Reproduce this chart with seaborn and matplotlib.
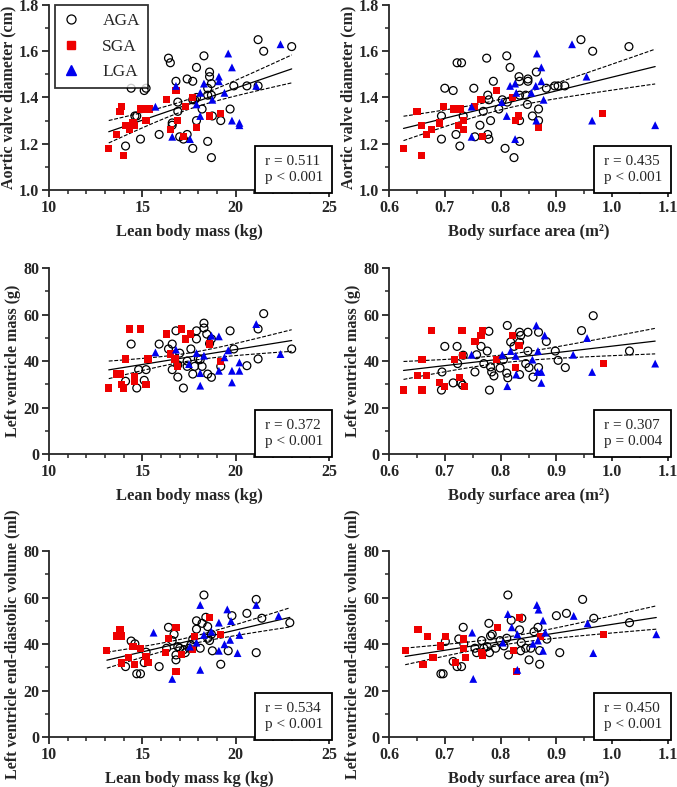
import numpy as np
import pandas as pd
import matplotlib
matplotlib.use("Agg")
import matplotlib.pyplot as plt
import seaborn as sns
from matplotlib.lines import Line2D
from matplotlib.offsetbox import AnchoredText
from matplotlib.ticker import MultipleLocator

# ===========================
# DATA
# ===========================

# Panel 1: lean body mass (kg) vs aortic valve diameter (cm)
lbm_avd_aga_x = [14.4, 15.1, 15.2, 14.6, 14.7, 14.9, 14.1, 15.9, 16.4, 16.5, 16.8, 16.9, 16.9, 16.6, 16.6,
                 17.0, 17.2, 17.4, 17.4, 17.7, 17.9, 18.3, 17.7, 17.8, 17.9, 17.9, 17.7, 18.2, 18.6, 18.6,
                 18.7, 18.5, 18.7, 18.5, 18.75, 18.5, 18.7, 19.2, 19.7, 19.9, 20.6, 21.2, 21.5, 21.2, 23.0]
lbm_avd_aga_y = [1.44, 1.43, 1.44, 1.32, 1.32, 1.22, 1.19, 1.24, 1.57, 1.55, 1.47, 1.38, 1.34, 1.29, 1.28,
                 1.23, 1.22, 1.24, 1.48, 1.47, 1.53, 1.58, 1.39, 1.39, 1.40, 1.30, 1.18, 1.35, 1.49, 1.51,
                 1.46, 1.44, 1.41, 1.41, 1.32, 1.21, 1.14, 1.30, 1.35, 1.45, 1.45, 1.65, 1.60, 1.45, 1.62]
lbm_avd_sga_x = [13.2, 13.6, 13.8, 13.9, 14.0, 14.1, 14.3, 14.5, 14.6, 14.9, 15.2, 15.4, 15.2, 16.3, 16.5,
                 16.8, 16.9, 17.2, 17.3, 17.7, 17.9, 18.6, 19.2]
lbm_avd_sga_y = [1.18, 1.24, 1.34, 1.36, 1.15, 1.28, 1.26, 1.29, 1.28, 1.35, 1.35, 1.35, 1.30, 1.39, 1.26,
                 1.43, 1.30, 1.23, 1.36, 1.40, 1.27, 1.32, 1.33]
lbm_avd_lga_x = [15.7, 16.6, 16.8, 17.55, 17.9, 18.1, 18.1, 18.3, 18.75, 19.1, 19.1, 19.4, 19.6, 19.8, 19.8,
                 20.2, 20.2, 21.1, 22.4]
lbm_avd_lga_y = [1.36, 1.23, 1.45, 1.22, 1.37, 1.32, 1.42, 1.46, 1.39, 1.49, 1.47, 1.42, 1.59, 1.53, 1.30,
                 1.29, 1.28, 1.45, 1.63]

# Panel 2: body surface area (m2) vs aortic valve diameter (cm)
bsa_avd_aga_x = [0.694, 0.694, 0.700, 0.715, 0.722, 0.730, 0.720, 0.727, 0.733, 0.752, 0.754, 0.763, 0.769,
                 0.775, 0.777, 0.779, 0.777, 0.779, 0.782, 0.787, 0.797, 0.803, 0.812, 0.811, 0.817, 0.808,
                 0.824, 0.833, 0.834, 0.834, 0.834, 0.834, 0.845, 0.849, 0.849, 0.848, 0.857, 0.864, 0.868,
                 0.868, 0.882, 0.897, 0.903, 0.915, 0.944, 0.965, 1.030]
bsa_avd_aga_y = [1.32, 1.22, 1.44, 1.43, 1.55, 1.55, 1.24, 1.19, 1.32, 1.44, 1.23, 1.28, 1.34, 1.57, 1.41,
                 1.39, 1.24, 1.22, 1.30, 1.47, 1.35, 1.39, 1.38, 1.58, 1.53, 1.18, 1.14, 1.49, 1.47, 1.41,
                 1.30, 1.21, 1.41, 1.48, 1.47, 1.37, 1.32, 1.51, 1.35, 1.30, 1.44, 1.45, 1.45, 1.45, 1.65,
                 1.60, 1.62]
bsa_avd_sga_x = [0.626, 0.650, 0.658, 0.658, 0.667, 0.676, 0.691, 0.698, 0.716, 0.728, 0.725, 0.734, 0.733,
                 0.753, 0.765, 0.767, 0.792, 0.821, 0.826, 0.832, 0.868, 0.983]
bsa_avd_sga_y = [1.18, 1.34, 1.28, 1.15, 1.24, 1.26, 1.29, 1.36, 1.35, 1.35, 1.28, 1.30, 1.26, 1.36, 1.39,
                 1.23, 1.43, 1.40, 1.30, 1.32, 1.27, 1.33]
bsa_avd_lga_x = [0.748, 0.748, 0.802, 0.811, 0.817, 0.826, 0.828, 0.826, 0.855, 0.863, 0.865, 0.864, 0.873,
                 0.873, 0.877, 0.928, 0.954, 0.964, 1.077]
bsa_avd_lga_y = [1.36, 1.23, 1.38, 1.32, 1.45, 1.46, 1.42, 1.22, 1.42, 1.45, 1.59, 1.30, 1.53, 1.47, 1.39,
                 1.63, 1.49, 1.30, 1.28]

# Panel 3: lean body mass (kg) vs left ventricle mass (g)
lbm_lvm_aga_x = [14.4, 14.8, 14.7, 14.1, 15.1, 15.2, 15.9, 16.4, 16.6, 16.6, 16.8, 16.9, 16.9, 17.0, 17.2,
                 17.4, 17.6, 17.7, 17.8, 17.9, 17.9, 18.1, 18.2, 18.3, 18.3, 18.45, 18.5, 18.7, 18.7, 19.2,
                 19.7, 19.9, 20.6, 21.2, 21.2, 21.5, 23.0, 17.4, 18.0, 18.6]
lbm_lvm_aga_y = [47.3, 36.3, 28.4, 31.3, 31.7, 36.3, 47.3, 45.2, 47.3, 36.3, 53.0, 33.1, 38.4, 43.4, 28.4,
                 37.7, 45.2, 34.4, 37.7, 53.0, 49.5, 40.6, 37.7, 56.3, 54.2, 51.6, 34.4, 33.0, 49.5, 37.7,
                 53.0, 45.2, 38.0, 40.9, 53.8, 60.4, 45.2, 40.0, 41.0, 47.5]
lbm_lvm_sga_x = [13.2, 13.6, 13.8, 13.9, 14.0, 14.1, 14.3, 14.6, 14.6, 14.9, 15.2, 15.3, 16.3, 16.5, 16.75,
                 16.9, 17.1, 17.3, 17.6, 18.6, 19.2]
lbm_lvm_sga_y = [28.4, 34.4, 34.4, 29.8, 28.4, 40.9, 53.8, 33.1, 31.3, 53.8, 29.8, 40.9, 51.6, 43.0, 40.9,
                 37.7, 53.8, 49.5, 51.6, 47.3, 39.9]
lbm_lvm_lga_x = [15.7, 16.8, 17.5, 17.9, 18.1, 18.1, 18.3, 18.7, 19.1, 19.1, 19.4, 19.6, 19.8, 19.8, 20.2,
                 20.2, 21.1, 22.4]
lbm_lvm_lga_y = [43.7, 44.9, 38.7, 43.4, 34.8, 29.4, 42.3, 50.9, 50.6, 35.8, 41.6, 44.6, 35.8, 30.8, 39.4,
                 35.8, 55.9, 43.0]

# Panel 4: body surface area (m2) vs left ventricle mass (g)
bsa_lvm_aga_x = [0.694, 0.695, 0.700, 0.715, 0.722, 0.723, 0.729, 0.732, 0.733, 0.754, 0.757, 0.765, 0.770,
                 0.776, 0.779, 0.780, 0.782, 0.784, 0.788, 0.799, 0.805, 0.811, 0.813, 0.812, 0.818, 0.824,
                 0.834, 0.834, 0.836, 0.834, 0.845, 0.849, 0.851, 0.849, 0.858, 0.868, 0.868, 0.882, 0.898,
                 0.903, 0.916, 0.945, 0.966, 1.031]
bsa_lvm_aga_y = [27.5, 35.3, 46.3, 30.6, 46.3, 38.9, 30.6, 29.6, 42.5, 35.3, 42.7, 46.3, 38.9, 44.3, 52.8,
                 27.5, 37.5, 35.3, 33.6, 37.0, 40.6, 34.8, 32.8, 55.3, 48.2, 46.3, 34.2, 52.4, 51.0, 48.1,
                 38.9, 44.3, 37.2, 52.4, 33.1, 52.4, 37.2, 48.4, 44.3, 40.3, 37.2, 53.1, 59.5, 44.3]
bsa_lvm_sga_x = [0.626, 0.651, 0.659, 0.659, 0.667, 0.676, 0.691, 0.700, 0.718, 0.726, 0.731, 0.732, 0.736,
                 0.754, 0.765, 0.768, 0.793, 0.821, 0.827, 0.833, 0.985]
bsa_lvm_sga_y = [27.5, 33.9, 40.6, 27.5, 33.9, 53.1, 30.6, 29.2, 40.6, 32.8, 53.1, 42.5, 29.2, 48.4, 51.0,
                 53.1, 40.6, 51.0, 37.2, 46.7, 38.9]
bsa_lvm_lga_x = [0.748, 0.803, 0.812, 0.818, 0.827, 0.828, 0.857, 0.864, 0.867, 0.866, 0.873, 0.873, 0.879,
                 0.930, 0.955, 0.964, 1.077]
bsa_lvm_lga_y = [42.7, 42.7, 29.2, 44.3, 42.2, 34.2, 40.6, 55.3, 44.3, 35.3, 35.3, 30.6, 51.0, 42.7, 49.9,
                 35.3, 38.9]

# Panel 5: lean body mass (kg) vs LV end-diastolic volume (ml)
lbm_edv_aga_x = [14.4, 14.6, 14.1, 14.7, 14.9, 15.2, 15.1, 15.9, 16.3, 16.4, 16.6, 16.7, 16.8, 16.8, 16.9,
                 17.0, 17.2, 17.3, 17.5, 17.6, 17.7, 17.9, 17.9, 18.1, 18.3, 18.2, 18.4, 18.5, 18.5, 18.6,
                 18.7, 18.75, 19.2, 19.6, 19.8, 20.6, 21.1, 21.1, 21.4, 22.9]
lbm_edv_aga_y = [41.3, 40.1, 30.3, 27.2, 27.2, 36.5, 32.0, 30.3, 38.2, 47.2, 41.5, 44.2, 33.2, 35.3, 38.9,
                 38.2, 37.5, 36.3, 38.2, 39.6, 42.1, 50.0, 46.4, 38.2, 61.1, 48.9, 51.5, 47.5, 42.5, 41.5,
                 44.2, 37.1, 31.3, 37.1, 52.2, 53.2, 59.2, 36.3, 51.1, 49.2]
lbm_edv_sga_x = [13.1, 13.6, 13.8, 13.9, 13.9, 14.25, 14.5, 14.6, 14.9, 15.2, 15.3, 16.25, 16.4, 16.8, 16.8,
                 17.1, 17.7, 17.8, 18.6, 19.2]
lbm_edv_sga_y = [37.2, 43.5, 46.1, 43.5, 31.8, 34.2, 38.9, 31.3, 38.2, 34.6, 32.0, 36.3, 42.5, 47.2, 28.2,
                 35.6, 37.5, 43.2, 51.4, 44.2]
lbm_edv_lga_x = [15.6, 16.6, 17.55, 17.9, 18.1, 18.1, 18.3, 18.7, 19.1, 19.1, 19.4, 19.55, 19.7, 19.75, 20.1,
                 20.2, 21.1, 22.3]
lbm_edv_lga_y = [44.9, 25.0, 38.9, 40.6, 56.8, 28.9, 43.9, 45.3, 49.2, 37.1, 39.9, 54.9, 41.8, 49.9, 36.1,
                 43.9, 56.8, 52.1]

# Panel 6: body surface area (m2) vs LV end-diastolic volume (ml)
bsa_edv_aga_x = [0.693, 0.697, 0.701, 0.715, 0.722, 0.730, 0.725, 0.733, 0.734, 0.754, 0.757, 0.766, 0.770,
                 0.776, 0.779, 0.782, 0.780, 0.785, 0.791, 0.799, 0.806, 0.811, 0.813, 0.814, 0.819, 0.834,
                 0.836, 0.837, 0.838, 0.845, 0.851, 0.854, 0.860, 0.867, 0.870, 0.870, 0.883, 0.900, 0.906,
                 0.918, 0.947, 0.967, 1.031]
bsa_edv_aga_y = [27.2, 27.2, 41.1, 32.5, 30.3, 30.3, 42.2, 47.2, 40.1, 38.2, 36.3, 41.5, 38.2, 38.9, 48.9,
                 43.5, 36.3, 44.2, 38.2, 41.5, 39.2, 42.5, 61.1, 35.3, 50.2, 46.1, 37.1, 40.6, 51.1, 38.2,
                 33.2, 38.2, 45.3, 47.2, 37.2, 31.3, 42.1, 52.2, 36.3, 53.2, 59.2, 51.1, 49.2]
bsa_edv_sga_x = [0.629, 0.652, 0.661, 0.669, 0.679, 0.692, 0.701, 0.719, 0.734, 0.733, 0.737, 0.766, 0.768,
                 0.794, 0.823, 0.828, 0.834, 0.872, 0.985]
bsa_edv_sga_y = [37.2, 46.1, 31.3, 43.2, 34.2, 39.2, 43.2, 32.0, 42.2, 38.2, 34.2, 36.3, 35.3, 47.2, 37.2,
                 28.2, 51.4, 43.2, 44.2]
bsa_edv_lga_x = [0.749, 0.751, 0.804, 0.813, 0.820, 0.830, 0.830, 0.858, 0.865, 0.868, 0.867, 0.876, 0.876,
                 0.880, 0.931, 0.956, 0.966, 1.079]
bsa_edv_lga_y = [44.9, 25.0, 40.6, 52.9, 47.2, 44.2, 28.9, 40.1, 56.8, 54.8, 41.5, 50.1, 37.1, 44.9, 52.1,
                 48.9, 36.1, 44.2]

stats_text = ["r = 0.511\np < 0.001", "r = 0.435\np < 0.001",
              "r = 0.372\np < 0.001", "r = 0.307\np = 0.004",
              "r = 0.534\np < 0.001", "r = 0.450\np < 0.001"]

x_labels = ["Lean body mass (kg)", "Body surface area (m²)"] * 2 + ["Lean body mass kg (kg)", "Body surface area (m²)"]
y_labels = ["Aortic valve diameter (cm)"] * 2 + ["Left ventricle mass (g)"] * 2 + \
           ["Left ventricle end-diastolic volume (ml)"] * 2

# ===========================
# STYLE
# ===========================

sns.set_style("ticks")
plt.rcParams["font.family"] = ["Liberation Serif", "DejaVu Serif"]
plt.rcParams["font.weight"] = "bold"

GROUP_STYLE = {
    "AGA": dict(marker="o", facecolor="none", edgecolor="black", linewidth=0.9, s=32),
    "SGA": dict(marker="s", color="#ee0000", edgecolor="none", linewidth=0, s=27),
    "LGA": dict(marker="^", color="#0000ee", edgecolor="none", linewidth=0, s=32),
}


def make_frame(x_aga, y_aga, x_sga, y_sga, x_lga, y_lga):
    return pd.concat([
        pd.DataFrame({"x": x_aga, "y": y_aga, "group": "AGA"}),
        pd.DataFrame({"x": x_sga, "y": y_sga, "group": "SGA"}),
        pd.DataFrame({"x": x_lga, "y": y_lga, "group": "LGA"}),
    ], ignore_index=True)


panels = [
    make_frame(lbm_avd_aga_x, lbm_avd_aga_y, lbm_avd_sga_x, lbm_avd_sga_y, lbm_avd_lga_x, lbm_avd_lga_y),
    make_frame(bsa_avd_aga_x, bsa_avd_aga_y, bsa_avd_sga_x, bsa_avd_sga_y, bsa_avd_lga_x, bsa_avd_lga_y),
    make_frame(lbm_lvm_aga_x, lbm_lvm_aga_y, lbm_lvm_sga_x, lbm_lvm_sga_y, lbm_lvm_lga_x, lbm_lvm_lga_y),
    make_frame(bsa_lvm_aga_x, bsa_lvm_aga_y, bsa_lvm_sga_x, bsa_lvm_sga_y, bsa_lvm_lga_x, bsa_lvm_lga_y),
    make_frame(lbm_edv_aga_x, lbm_edv_aga_y, lbm_edv_sga_x, lbm_edv_sga_y, lbm_edv_lga_x, lbm_edv_lga_y),
    make_frame(bsa_edv_aga_x, bsa_edv_aga_y, bsa_edv_sga_x, bsa_edv_sga_y, bsa_edv_lga_x, bsa_edv_lga_y),
]


def draw_fit(ax, df):
    # least squares line with 95% confidence band of the mean
    x = df["x"].to_numpy()
    y = df["y"].to_numpy()
    n = len(x)
    slope, intercept = np.polyfit(x, y, 1)
    resid = y - (slope * x + intercept)
    s = np.sqrt(np.sum(resid ** 2) / (n - 2))
    sxx = np.sum((x - x.mean()) ** 2)
    xs = np.linspace(x.min(), x.max(), 100)
    fit = slope * xs + intercept
    half = 1.99 * s * np.sqrt(1.0 / n + (xs - x.mean()) ** 2 / sxx)
    ax.plot(xs, fit, color="black", lw=0.9, zorder=3)
    ax.plot(xs, fit + half, color="black", lw=0.8, ls=(0, (3.5, 1.5)), zorder=3)
    ax.plot(xs, fit - half, color="black", lw=0.8, ls=(0, (3.5, 1.5)), zorder=3)


# ===========================
# FIGURE
# ===========================

fig = plt.figure(figsize=(6.77, 7.87), dpi=100)
lefts = [0.0724, 0.5746]
widths = [0.4136, 0.4121]
bottoms = [0.7586, 0.4231, 0.0635]
heights = [0.2351, 0.2363, 0.2363]

for i, df in enumerate(panels):
    row, col = divmod(i, 2)
    ax = fig.add_axes([lefts[col], bottoms[row], widths[col], heights[row]])

    for grp in ["AGA", "SGA", "LGA"]:
        sub = df[df["group"] == grp]
        sns.scatterplot(data=sub, x="x", y="y", ax=ax, zorder=4, legend=False, **GROUP_STYLE[grp])

    draw_fit(ax, df)

    if col == 0:
        ax.set_xlim(10, 25)
        ax.xaxis.set_major_locator(MultipleLocator(5))
        ax.xaxis.set_minor_locator(MultipleLocator(1))
    else:
        ax.set_xlim(0.6, 1.1)
        ax.xaxis.set_major_locator(MultipleLocator(0.1))
        ax.xaxis.set_minor_locator(MultipleLocator(0.05))
        ax.xaxis.set_major_formatter(plt.FuncFormatter(lambda v, p: f"{v:.1f}"))

    if row == 0:
        ax.set_ylim(1.0, 1.8)
        ax.yaxis.set_major_locator(MultipleLocator(0.2))
        ax.yaxis.set_minor_locator(MultipleLocator(0.1))
        ax.yaxis.set_major_formatter(plt.FuncFormatter(lambda v, p: f"{v:.1f}"))
    else:
        ax.set_ylim(0, 80)
        ax.yaxis.set_major_locator(MultipleLocator(20))
        ax.yaxis.set_minor_locator(MultipleLocator(10))

    sns.despine(ax=ax)
    for sp in ["left", "bottom"]:
        ax.spines[sp].set_linewidth(1.3)
    ax.tick_params(which="major", length=5, width=1.3, labelsize=11.5, pad=2)
    ax.tick_params(which="minor", length=3, width=1.1)
    for lab in ax.get_xticklabels() + ax.get_yticklabels():
        lab.set_fontweight("bold")

    ax.set_xlabel(x_labels[i], fontsize=12, fontweight="bold", labelpad=6)
    ax.set_ylabel(y_labels[i], fontsize=11.5, fontweight="bold", labelpad=2)

    at = AnchoredText(stats_text[i], loc="lower right", borderpad=0, frameon=True,
                      prop=dict(size=11, weight="normal", linespacing=1.25))
    at.patch.set_linewidth(1.3)
    at.patch.set_edgecolor("black")
    at.patch.set_boxstyle("square,pad=0.2")
    ax.add_artist(at)

    if i == 0:
        handles = [
            Line2D([], [], ls="none", marker="o", markersize=6.5, markerfacecolor="none",
                   markeredgecolor="black", markeredgewidth=0.9),
            Line2D([], [], ls="none", marker="s", markersize=6, color="#ee0000"),
            Line2D([], [], ls="none", marker="^", markersize=6.5, color="#0000ee"),
        ]
        leg = ax.legend(handles, ["AGA", "SGA", "LGA"], loc="upper left", bbox_to_anchor=(0.02, 1.0),
                        borderaxespad=0, frameon=True, fancybox=False,
                        handletextpad=1.3, labelspacing=0.55, borderpad=0.45, handlelength=1.0,
                        prop=dict(size=12.5, weight="normal"))
        leg.get_frame().set_edgecolor("black")
        leg.get_frame().set_linewidth(1.3)
        leg.set_zorder(6)

fig.savefig("out.png", dpi=100)
